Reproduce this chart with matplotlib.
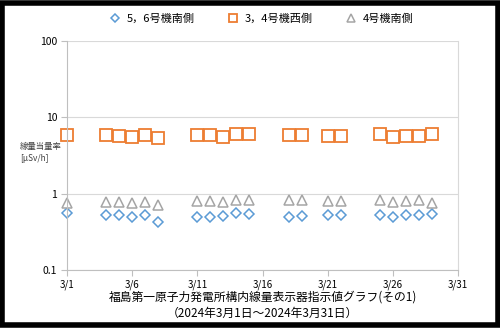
import matplotlib
matplotlib.use("Agg")
import matplotlib.pyplot as plt
from matplotlib.patches import Rectangle
import numpy as np

plt.rcParams['font.family'] = ['Noto Sans CJK JP', 'DejaVu Sans']

days = [1, 4, 5, 6, 7, 8, 11, 12, 13, 14, 15, 18, 19, 21, 22, 25, 26, 27, 28, 29]
s56_south = [0.56, 0.52, 0.52, 0.50, 0.52, 0.43, 0.49, 0.50, 0.51, 0.56, 0.54,
             0.50, 0.51, 0.52, 0.52, 0.53, 0.50, 0.52, 0.52, 0.54]
s34_west = [5.8, 5.8, 5.7, 5.6, 5.8, 5.4, 5.8, 5.9, 5.6, 6.0, 6.0,
            5.8, 5.9, 5.7, 5.7, 6.0, 5.6, 5.7, 5.7, 6.0]
s4_south = [0.75, 0.77, 0.78, 0.75, 0.77, 0.72, 0.81, 0.80, 0.78, 0.83, 0.82,
            0.82, 0.83, 0.79, 0.79, 0.83, 0.77, 0.80, 0.83, 0.75]
labels = ['5，6号機南側', '3，4号機西側', '4号機南側']
xtick_days = [1, 6, 11, 16, 21, 26, 31]
xtick_labels = ['3/1', '3/6', '3/11', '3/16', '3/21', '3/26', '3/31']

fig = plt.figure(figsize=(5, 3.28), dpi=100)
ax = fig.add_axes([0.134, 0.177, 0.782, 0.698])

ax.plot(days, s56_south, linestyle='none', marker='D', markersize=5.5, clip_on=False,
        markerfacecolor='white', markeredgecolor='#5B9BD5', markeredgewidth=1.1, label=labels[0])
ax.plot(days, s34_west, linestyle='none', marker='s', markersize=8.5, clip_on=False,
        markerfacecolor='white', markeredgecolor='#ED7D31', markeredgewidth=1.3, label=labels[1])
ax.plot(days, s4_south, linestyle='none', marker='^', markersize=7.5, clip_on=False,
        markerfacecolor='white', markeredgecolor='#A5A5A5', markeredgewidth=1.1, label=labels[2])

ax.set_yscale('log')
ax.set_ylim(0.1, 100)
ax.set_xlim(1, 31)
ax.set_yticks([0.1, 1, 10, 100])
ax.set_yticklabels(['0.1', '1', '10', '100'])
ax.minorticks_off()
ax.set_xticks(xtick_days)
ax.set_xticklabels(xtick_labels)
ax.tick_params(axis='y', length=4, color='#BFBFBF', labelsize=7.5, pad=3)
ax.tick_params(axis='x', length=4, color='#BFBFBF', labelsize=7, pad=3)
ax.grid(axis='y', color='#D9D9D9', linewidth=0.8)
ax.spines['top'].set_visible(False)
ax.spines['left'].set_color('#BFBFBF')
ax.spines['bottom'].set_color('#BFBFBF')
ax.spines['right'].set_color('#D9D9D9')
ax.set_axisbelow(True)

leg = ax.legend(loc='lower center', bbox_to_anchor=(0.49, 1.03), ncol=3, frameon=False,
                fontsize=8, handletextpad=0.1, columnspacing=2.4, markerscale=0.75)

fig.text(0.04, 0.535, '線量当量率\n[μSv/h]', fontsize=6, ha='left', va='center', color='#404040',
         linespacing=1.4)
fig.text(0.525, 0.095, '福島第一原子力発電所構内線量表示器指示値グラフ(その1)', fontsize=8.5,
         ha='center', va='center')
fig.text(0.525, 0.045, '（2024年3月1日～2024年3月31日）', fontsize=8.5, ha='center', va='center')

fig.patches.append(Rectangle((0.004, 0.008), 0.992, 0.984, transform=fig.transFigure,
                             fill=False, edgecolor='black', linewidth=4))

fig.savefig('out.png', dpi=100)
